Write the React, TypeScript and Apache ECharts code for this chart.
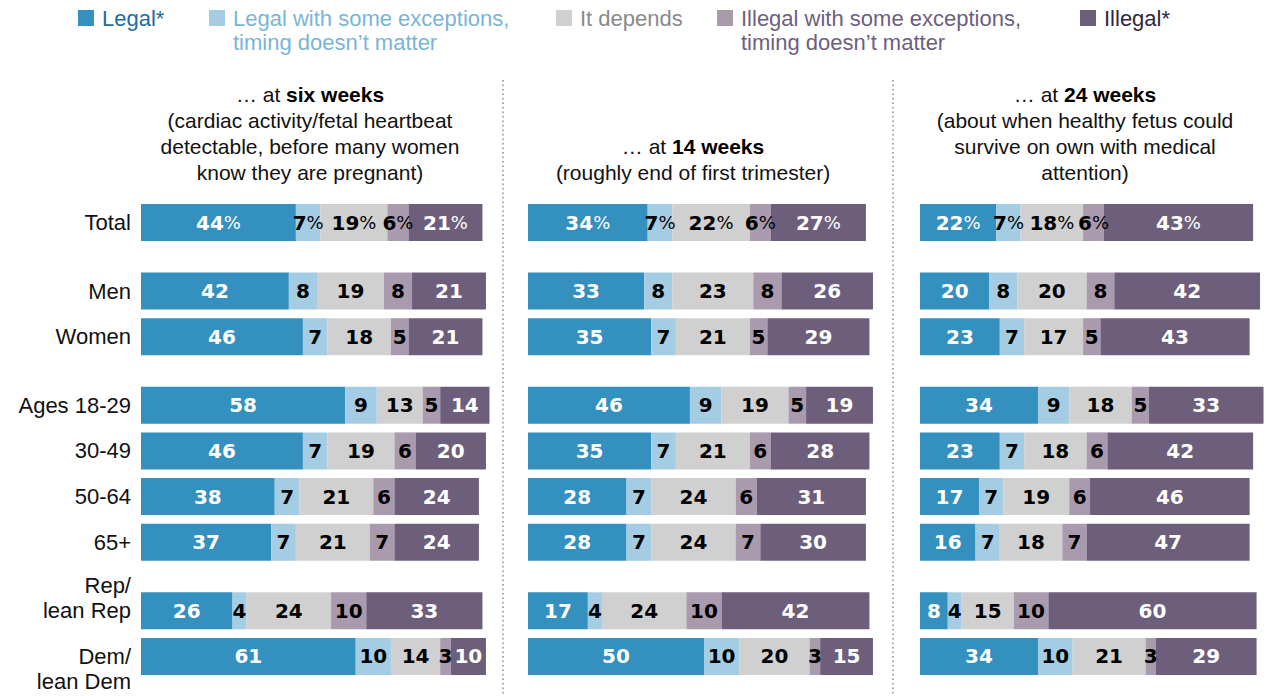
import React, { useEffect, useRef } from "react";
import * as echarts from "echarts";

// ---- data ----
const rowLabels = ["Total", "Men", "Women", "Ages 18-29", "30-49", "50-64", "65+", "Rep/\nlean Rep", "Dem/\nlean Dem"];
const groupSizes = [1, 2, 4, 2];
const responses = [
  "Legal*",
  "Legal with some exceptions,\ntiming doesn\u2019t matter",
  "It depends",
  "Illegal with some exceptions,\ntiming doesn\u2019t matter",
  "Illegal*",
];
const colors = ["#3390bf", "#a4cde3", "#d0d0d0", "#a99aae", "#6d5f7c"];
const legendTextColors = ["#1f6c9c", "#7ab5d6", "#8a8a8a", "#6c5f7e", "#2f283a"];
const labelColors = ["#ffffff", "#000000", "#000000", "#000000", "#ffffff"];

const sixLegal = [44, 42, 46, 58, 46, 38, 37, 26, 61];
const sixLegalExc = [7, 8, 7, 9, 7, 7, 7, 4, 10];
const sixDepends = [19, 19, 18, 13, 19, 21, 21, 24, 14];
const sixIllegalExc = [6, 8, 5, 5, 6, 6, 7, 10, 3];
const sixIllegal = [21, 21, 21, 14, 20, 24, 24, 33, 10];

const fourteenLegal = [34, 33, 35, 46, 35, 28, 28, 17, 50];
const fourteenLegalExc = [7, 8, 7, 9, 7, 7, 7, 4, 10];
const fourteenDepends = [22, 23, 21, 19, 21, 24, 24, 24, 20];
const fourteenIllegalExc = [6, 8, 5, 5, 6, 6, 7, 10, 3];
const fourteenIllegal = [27, 26, 29, 19, 28, 31, 30, 42, 15];

const twentyFourLegal = [22, 20, 23, 34, 23, 17, 16, 8, 34];
const twentyFourLegalExc = [7, 8, 7, 9, 7, 7, 7, 4, 10];
const twentyFourDepends = [18, 20, 17, 18, 18, 19, 18, 15, 21];
const twentyFourIllegalExc = [6, 8, 5, 5, 6, 6, 7, 10, 3];
const twentyFourIllegal = [43, 42, 43, 33, 42, 46, 47, 60, 29];

const panelData = [
  [sixLegal, sixLegalExc, sixDepends, sixIllegalExc, sixIllegal],
  [fourteenLegal, fourteenLegalExc, fourteenDepends, fourteenIllegalExc, fourteenIllegal],
  [twentyFourLegal, twentyFourLegalExc, twentyFourDepends, twentyFourIllegalExc, twentyFourIllegal],
];

const panelTitles = [
  { pre: "\u2026 at ", bold: "six weeks", sub: ["(cardiac activity/fetal heartbeat", "detectable, before many women", "know they are pregnant)"] },
  { pre: "\u2026 at ", bold: "14 weeks", sub: ["(roughly end of first trimester)"] },
  { pre: "\u2026 at ", bold: "24 weeks", sub: ["(about when healthy fetus could", "survive on own with medical", "attention)"] },
];

const FONT = "'Liberation Sans', Arial, sans-serif";
const NUMFONT = "'DejaVu Sans', sans-serif";

export default function App() {
  const ref = useRef<HTMLDivElement>(null);
  useEffect(() => {
    if (!ref.current) return;
    const chart = echarts.init(ref.current, null, { renderer: "svg" });

    // category slots: each row takes 2 half-slots, groups separated by an extra half-slot
    const slots: string[] = [];
    const rowSlot: number[] = [];
    let r = 0;
    let gapN = 0;
    groupSizes.forEach((g, gi) => {
      if (gi > 0) slots.push("_g" + gapN++);
      for (let k = 0; k < g; k++) {
        if (!(gi === 0 && k === 0)) slots.push("_g" + gapN++);
        rowSlot.push(slots.length);
        slots.push(rowLabels[r++]);
      }
    });

    const slotH = 22.84;
    const top = 222.5 - slotH / 2;
    const height = slotH * slots.length;
    const lefts = [141, 528, 920];
    const unit = 3.52;

    const grids = lefts.map((l) => ({ left: l, top, width: unit * 100, height }));
    const xAxes = lefts.map((_, i) => ({ type: "value", gridIndex: i, min: 0, max: 100, show: false }));
    const yAxes = lefts.map((_, i) => ({
      type: "category",
      gridIndex: i,
      data: slots,
      inverse: true,
      axisLine: { show: false },
      axisTick: { show: false },
      splitLine: { show: false },
      axisLabel: {
        show: i === 0,
        interval: 0,
        margin: 10,
        fontSize: 22,
        lineHeight: 25,
        color: "#111",
        fontFamily: FONT,
        formatter: (v: string) => {
          if (v.startsWith("_g")) return "";
          if (v === rowLabels[7]) return v + "\n";
          if (v === rowLabels[8]) return "\n" + v;
          return v;
        },
      },
    }));

    const series: any[] = [];
    panelData.forEach((pd, pi) => {
      pd.forEach((vals, ri) => {
        const data: any[] = slots.map(() => null);
        vals.forEach((v, idx) => {
          data[rowSlot[idx]] = v;
        });
        series.push({
          type: "bar",
          name: responses[ri],
          xAxisIndex: pi,
          yAxisIndex: pi,
          stack: "p" + pi,
          barWidth: 37,
          clip: false,
          data,
          itemStyle: { color: colors[ri] },
          label: {
            show: true,
            position: "inside",
            formatter: (p: any) =>
              p.dataIndex === 0 ? `{v|${p.value}}{p|%}` : `{v|${p.value}}`,
            rich: {
              v: { fontSize: 20, fontWeight: "bold", color: labelColors[ri], fontFamily: NUMFONT },
              p: { fontSize: 18, fontWeight: "normal", color: labelColors[ri], fontFamily: NUMFONT },
            },
          },
        });
      });
    });

    // legend graphics
    const legendItems = [
      { x: 78, text: responses[0] },
      { x: 209, text: responses[1] },
      { x: 556, text: responses[2] },
      { x: 717, text: responses[3] },
      { x: 1080, text: responses[4] },
    ];
    const graphic: any[] = [];
    legendItems.forEach((it, i) => {
      graphic.push({ type: "rect", shape: { x: it.x, y: 10, width: 16, height: 16 }, style: { fill: colors[i] } });
      graphic.push({
        type: "text",
        x: it.x + 24,
        y: 6,
        style: {
          text: it.text,
          fill: legendTextColors[i],
          font: `22px ${FONT}`,
          lineHeight: 24,
          textVerticalAlign: "top",
        },
      });
    });

    // panel titles
    const centers = [310, 693, 1085];
    panelTitles.forEach((t, i) => {
      const nLines = 1 + t.sub.length;
      const startY = 172 - (nLines - 1) * 26;
      graphic.push({
        type: "text",
        x: centers[i],
        y: startY,
        style: {
          text: `{n|${t.pre}}{b|${t.bold}}`,
          textAlign: "center",
          textVerticalAlign: "middle",
          rich: {
            n: { fontSize: 21, fontFamily: FONT, fill: "#111", color: "#111" },
            b: { fontSize: 21, fontFamily: FONT, fontWeight: "bold", fill: "#000", color: "#000" },
          },
        },
      });
      t.sub.forEach((s, k) => {
        graphic.push({
          type: "text",
          x: centers[i],
          y: startY + 26 * (k + 1),
          style: {
            text: s,
            textAlign: "center",
            textVerticalAlign: "middle",
            font: `21px ${FONT}`,
            fill: "#111",
          },
        });
      });
    });

    // dotted separators
    [503, 893].forEach((x) => {
      graphic.push({
        type: "line",
        shape: { x1: x, y1: 80, x2: x, y2: 696 },
        style: { stroke: "#8a8a8a", lineWidth: 1.5, lineDash: [1.5, 3] },
      });
    });

    chart.setOption({
      animation: false,
      grid: grids,
      xAxis: xAxes,
      yAxis: yAxes,
      series,
      graphic,
    });
    return () => chart.dispose();
  }, []);

  return <div ref={ref} style={{ width: 1267, height: 696, position: "absolute", left: 0, top: 0 }} />;
}
